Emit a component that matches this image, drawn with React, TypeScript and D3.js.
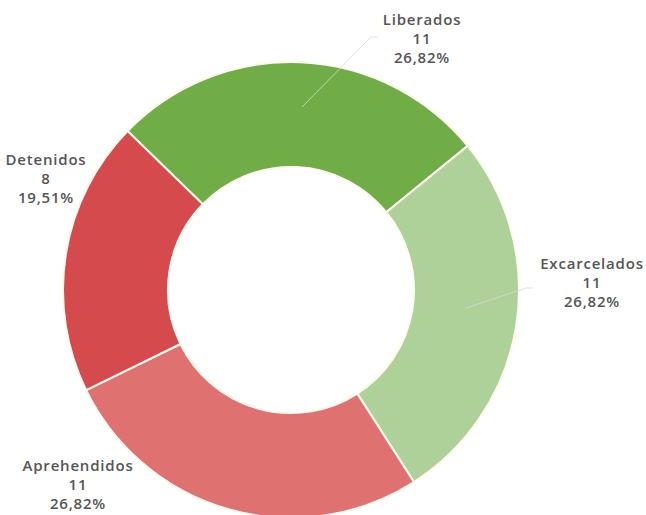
import React from "react";
import * as d3 from "d3";

const categories = ["Liberados", "Excarcelados", "Aprehendidos", "Detenidos"];
const counts = [11, 11, 11, 8];
const percentLabels = ["26,82%", "26,82%", "26,82%", "19,51%"];
const colors = ["#70ad47", "#aed19a", "#e07171", "#d54a4c"];

const W = 646;
const H = 515;
const CX = 291;
const CY = 290;
const R_OUT = 228;
const R_IN = 123;

// label anchor positions (center x, first line y) in category order
const labelPos: [number, number][] = [
  [422, 25],
  [592, 269],
  [78, 471],
  [46, 165],
];

export default function App() {
  const pie = d3
    .pie<number>()
    .sort(null)
    .value((d) => d)
    .startAngle((-45.8 * Math.PI) / 180)
    .endAngle((-45.8 * Math.PI) / 180 + 2 * Math.PI);
  const arcs = pie(counts);
  const arcGen = d3.arc<d3.PieArcDatum<number>>().innerRadius(R_IN).outerRadius(R_OUT);

  const lineGen = d3.line();
  const leaders: ([number, number][] | null)[] = [
    [
      [302, 107],
      [371, 37],
      [378, 37],
    ],
    [
      [466, 308],
      [526, 288],
      [533, 288],
    ],
    null,
    null,
  ];

  return (
    <svg
      width={W}
      height={H}
      style={{ position: "fixed", left: 0, top: 0, background: "#fff" }}
    >
      <g transform={`translate(${CX},${CY})`}>
        {arcs.map((a, i) => (
          <path
            key={categories[i]}
            d={arcGen(a) || ""}
            fill={colors[i]}
            stroke="#fffaf0"
            strokeWidth={2}
          />
        ))}
      </g>
      {leaders.map((l, i) =>
        l ? (
          <path
            key={"l" + i}
            d={lineGen(l) || ""}
            fill="none"
            stroke="#d8d8d8"
            strokeWidth={1}
            opacity={0.8}
          />
        ) : null
      )}
      {categories.map((c, i) => (
        <g key={"t" + c}>
          {[c, String(counts[i]), percentLabels[i]].map((s, j) => (
            <text
              key={j}
              x={labelPos[i][0]}
              y={labelPos[i][1] + j * 19}
              textAnchor="middle"
              fontFamily="'Open Sans', sans-serif"
              fontWeight={600}
              fontSize={15}
              letterSpacing={0.8}
              fill="#555555"
            >
              {s}
            </text>
          ))}
        </g>
      ))}
    </svg>
  );
}
